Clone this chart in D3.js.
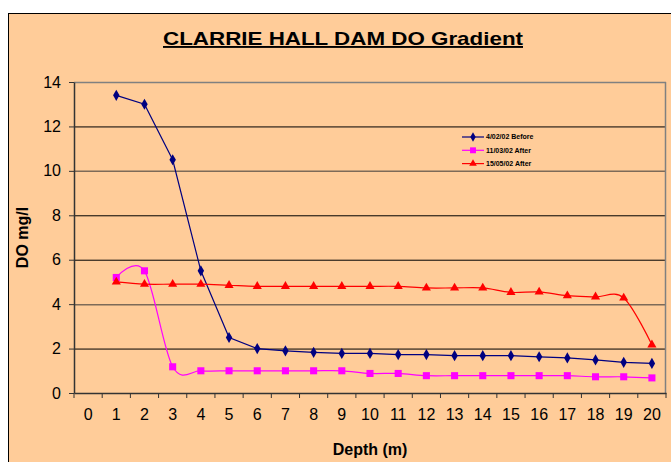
<!DOCTYPE html>
<html>
<head>
<meta charset="utf-8">
<script src="https://cdn.jsdelivr.net/npm/d3@7"></script>
<style>
  html, body { margin: 0; padding: 0; background: #fff; }
  svg { display: block; font-family: "Liberation Sans", Arial, sans-serif; }
</style>
</head>
<body>
<svg id="chart" width="671" height="462"></svg>
<script>
// depth categories 0..20, data starts at 1
const depths = d3.range(0, 21)
const seriesNames = ["4/02/02 Before", "11/03/02 After", "15/05/02 After"]
const before0402 = [13.4, 13.0, 10.5, 5.5, 2.5, 2.0, 1.9, 1.83, 1.78, 1.78, 1.73, 1.73, 1.68, 1.68, 1.68, 1.63, 1.58, 1.49, 1.38, 1.33]
const after1103 = [5.2, 5.5, 1.18, 1.0, 1.0, 1.0, 1.0, 1.0, 1.0, 0.88, 0.88, 0.78, 0.78, 0.78, 0.78, 0.78, 0.78, 0.73, 0.73, 0.68]
const after1505 = [5.0, 4.9, 4.9, 4.9, 4.85, 4.8, 4.8, 4.8, 4.8, 4.8, 4.8, 4.73, 4.73, 4.73, 4.53, 4.55, 4.38, 4.33, 4.28, 2.17]
const yTicks = [0, 2, 4, 6, 8, 10, 12, 14]

const svg = d3.select("#chart")
const plot = { left: 74, top: 82, right: 666, bottom: 393 }

// outer chart area
svg.append("rect")
    .attr("x", 8.5).attr("y", 13.5)
    .attr("width", 700).attr("height", 500)
    .attr("fill", "#ffcc99")
    .attr("stroke", "#000").attr("stroke-width", 1)

svg.append("text")
    .attr("x", 163).attr("y", 45)
    .attr("textLength", 360).attr("lengthAdjust", "spacingAndGlyphs")
    .attr("font-size", 19).attr("font-weight", "bold")
    .attr("text-decoration", "underline")
    .text("CLARRIE HALL DAM DO Gradient")

const x = d3.scaleBand().domain(depths).range([plot.left, plot.right])
const y = d3.scaleLinear().domain([0, 14]).range([plot.bottom, plot.top])

// gridlines
svg.append("g").selectAll("line")
    .data(yTicks.filter(d => d > 0))
    .join("line")
    .attr("x1", plot.left).attr("x2", plot.right)
    .attr("y1", d => y(d) + 0.5).attr("y2", d => y(d) + 0.5)
    .attr("stroke", d => d === 14 ? "#808080" : (d === 4 || d === 10 ? "#7d6a58" : "#000"))
    .attr("stroke-width", d => (d === 4 || d === 10 || d === 14) ? 1.5 : 1)

svg.append("line")
    .attr("x1", plot.right - 0.5).attr("x2", plot.right - 0.5)
    .attr("y1", plot.top).attr("y2", plot.bottom)
    .attr("stroke", "#808080").attr("stroke-width", 1.5)

// y axis
const yAxis = svg.append("g")
    .attr("transform", `translate(${plot.left},0)`)
    .call(d3.axisLeft(y).tickValues(yTicks).tickSize(5).tickPadding(8).tickSizeOuter(0))
yAxis.select(".domain").attr("stroke", "#333").attr("stroke-width", 1.5)
yAxis.selectAll(".tick line").attr("stroke", "#333")
yAxis.selectAll("text").attr("font-size", 16).attr("fill", "#000")
    .attr("font-family", "Liberation Sans, Arial, sans-serif")

// x axis: ticks at category boundaries
const xAxis = svg.append("g")
    .attr("transform", `translate(0,${plot.bottom})`)
    .call(d3.axisBottom(x).tickSize(0).tickPadding(16))
xAxis.select(".domain").attr("stroke", "#333").attr("stroke-width", 1.5)
xAxis.selectAll("text").attr("font-size", 16).attr("fill", "#000")
    .attr("font-family", "Liberation Sans, Arial, sans-serif")
xAxis.selectAll(".bound")
    .data(depths.concat([21]))
    .join("line")
    .attr("class", "bound")
    .attr("x1", d => plot.left + d * x.step()).attr("x2", d => plot.left + d * x.step())
    .attr("y1", 0).attr("y2", 5)
    .attr("stroke", "#333")

svg.append("text")
    .attr("transform", `translate(22,${(plot.top + plot.bottom) / 2}) rotate(-90)`)
    .attr("text-anchor", "middle").attr("dy", "0.35em")
    .attr("font-size", 16).attr("font-weight", "bold")
    .text("DO mg/l")

svg.append("text")
    .attr("x", 370).attr("y", 455)
    .attr("text-anchor", "middle")
    .attr("font-size", 16).attr("font-weight", "bold")
    .text("Depth (m)")

const series = [
    { name: seriesNames[0], values: before0402, color: "#000080", symbol: d3.symbolDiamond, size: 36, curve: d3.curveLinear },
    { name: seriesNames[1], values: after1103, color: "#ff00ff", symbol: d3.symbolSquare, size: 50, curve: d3.curveCatmullRom.alpha(0) },
    { name: seriesNames[2], values: after1505, color: "#ff0000", symbol: d3.symbolTriangle, size: 36, curve: d3.curveCatmullRom.alpha(0) }
]

series.forEach(s => {
    const line = d3.line()
        .x((d, i) => x(i + 1) + x.bandwidth() / 2)
        .y(d => y(d))
        .curve(s.curve)
    const g = svg.append("g")
    g.append("path")
        .attr("d", line(s.values))
        .attr("fill", "none")
        .attr("stroke", s.color)
        .attr("stroke-width", 1.2)
    g.selectAll("path.mark")
        .data(s.values)
        .join("path")
        .attr("class", "mark")
        .attr("transform", (d, i) => `translate(${x(i + 1) + x.bandwidth() / 2},${y(d)})`)
        .attr("d", d3.symbol(s.symbol, s.size))
        .attr("fill", s.color)
})

// legend
const legend = svg.append("g").attr("transform", "translate(462,137)")
series.forEach((s, i) => {
    const row = legend.append("g").attr("transform", `translate(0,${i * 13.3})`)
    row.append("line").attr("x1", 0).attr("x2", 22)
        .attr("stroke", s.color).attr("stroke-width", 1.2)
    row.append("path").attr("transform", "translate(11,0)")
        .attr("d", d3.symbol(s.symbol, s.size * 0.7))
        .attr("fill", s.color)
    row.append("text").attr("x", 24).attr("dy", "0.35em")
        .attr("font-size", 7).attr("font-weight", "bold")
        .text(s.name)
})
</script>
</body>
</html>
